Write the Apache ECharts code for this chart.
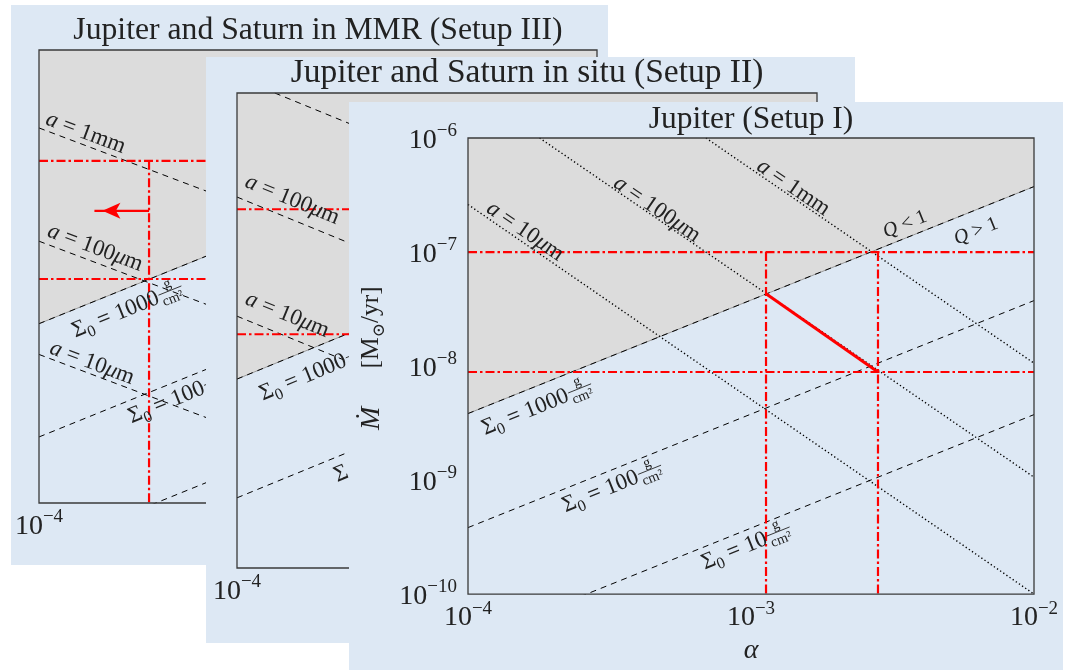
<!DOCTYPE html>
<html><head><meta charset="utf-8">
<script src="https://cdn.jsdelivr.net/npm/echarts@6/dist/echarts.min.js"></script>
<style>html,body{margin:0;padding:0;background:#fff}#c{width:1089px;height:670px}</style>
</head><body><div id="c"></div>
<script>
// ---------------- data ----------------
const xTicks = [1e-4, 1e-3, 1e-2];
const yTicks = [1e-10, 1e-9, 1e-8, 1e-7, 1e-6];
const panelTitles = ['Jupiter and Saturn in MMR (Setup III)', 'Jupiter and Saturn in situ (Setup II)', 'Jupiter (Setup I)'];

// Panel III (back)
const p3_toomre = [[1e-4, 3.83e-9], [1e-2, 3.75e-7]];   // Q = 1  (= Σ0 = 1000 g/cm²)
const p3_s100 = [[1e-4, 3.83e-10], [1e-2, 3.75e-8]];
const p3_s10 = [[1e-4, 3.83e-11], [1e-2, 3.75e-9]];
const p3_a1mm = [[1e-4, 2.05e-7], [1e-2, 2.83e-9]];
const p3_a100 = [[1e-4, 2.05e-8], [1e-2, 2.83e-10]];
const p3_a10 = [[1e-4, 2.05e-9], [1e-2, 2.83e-11]];
const p3_redH = [1.05e-7, 9.5e-9];
const p3_redV = [2.48e-4];
const p3_arrow = [[2.48e-4, 3.8e-8], [1.58e-4, 3.8e-8]];

// Panel II (middle)
const p2_toomre = [[1e-4, 3.9e-9], [1e-2, 3.9e-7]];
const p2_s100 = [[1e-4, 3.9e-10], [1e-2, 3.9e-8]];
const p2_s10 = [[1e-4, 3.9e-11], [1e-2, 3.9e-9]];
const p2_a1mm = [[1.35e-4, 1e-6], [1e-2, 1.35e-8]];
const p2_a100 = [[1e-4, 1.33e-7], [1e-2, 1.33e-9]];
const p2_a10 = [[1e-4, 1.32e-8], [1e-2, 1.32e-10]];
const p2_redH = [1.05e-7, 9.3e-9];

// Panel I (front)
const p1_toomre = [[1e-4, 3.83e-9], [1e-2, 3.75e-7]];
const p1_s100 = [[1e-4, 3.83e-10], [1e-2, 3.75e-8]];
const p1_s10 = [[1e-4, 3.83e-11], [1e-2, 3.75e-9]];
const p1_a1mm = [[6.93e-4, 1e-6], [1e-2, 1.06e-8]];
const p1_a100 = [[1.79e-4, 1e-6], [1e-2, 1.06e-9]];
const p1_a10 = [[1e-4, 2.61e-7], [1e-2, 1e-10]];
const p1_redH = [1e-7, 8.87e-9];
const p1_redV = [1.13e-3, 2.81e-3];
const p1_path = [[1.13e-3, 4.31e-8], [2.81e-3, 8.87e-9]];

// line annotations: [kind, value, unit/op, anchor alpha, anchor Mdot, line it follows]
const p3_labels = [
  ['a', '1', 'mm', 1.47e-4, 1.85e-7, p3_a1mm],
  ['a', '100', 'μm', 1.59e-4, 1.79e-8, p3_a100],
  ['sigma', '1000', '', 2.07e-4, 5.06e-9, p3_toomre],
  ['a', '10', 'μm', 1.55e-4, 1.72e-9, p3_a10],
  ['sigma', '100', '', 3.15e-4, 8.45e-10, p3_s100]
];
const p2_labels = [
  ['a', '100', 'μm', 1.55e-4, 1.26e-7, p2_a100],
  ['a', '10', 'μm', 1.49e-4, 1.35e-8, p2_a10],
  ['sigma', '1000', '', 1.85e-4, 4.4e-9, p2_toomre],
  ['sigma', '100', '', 3.2e-4, 8.7e-10, p2_s100]
];
const p1_labels = [
  ['a', '10', 'μm', 1.59e-4, 1.52e-7, p1_a10],
  ['a', '100', 'μm', 4.65e-4, 2.37e-7, p1_a100],
  ['a', '1', 'mm', 1.41e-3, 3.67e-7, p1_a1mm],
  ['q', '1', '<', 3.5e-3, 1.75e-7, p1_toomre],
  ['q', '1', '>', 6.24e-3, 1.52e-7, p1_toomre],
  ['sigma', '1000', '', 1.75e-4, 4.31e-9, p1_toomre],
  ['sigma', '100', '', 3.23e-4, 8.7e-10, p1_s100],
  ['sigma', '10', '', 9.6e-4, 2.61e-10, p1_s10]
];

// ---------------- styling / layout ----------------
const FF = '"Liberation Serif", "DejaVu Serif", serif';
const TXT = '#222';
const BG = '#dde8f4';
const GRAY = '#dcdcdc';
const RED = '#ff0000';
const grids = [[39, 50, 558, 453], [237, 93, 580, 475], [468, 138, 566, 460]];
const bgs = [[11, 5, 597, 560], [206, 57, 649, 586], [349, 102, 714, 568]];
const titleSize = [31.7, 33.5, 31.5];
const titleTop = [15, 56, 104];

const tickRich = {
  b: {fontFamily: FF, fontSize: 28, color: TXT, lineHeight: 33, verticalAlign: 'bottom'},
  s: {fontFamily: FF, fontSize: 19, color: TXT, lineHeight: 19, verticalAlign: 'top'}
};
function tickFmt(v) {
  const e = Math.round(Math.log10(v));
  return '{b|10}{s|' + (e < 0 ? '\u2212' : '') + Math.abs(e) + '}';
}

const DASH = [6, 5], DOT = [1.3, 2.5], DASHDOT = [9, 3, 2.5, 3];

function ls(panel, data, style, z) {
  return {type: 'line', xAxisIndex: panel, yAxisIndex: panel, zlevel: panel, z: z || 3,
    data: data, symbol: 'none', silent: true, animation: false, clip: true,
    lineStyle: style};
}
function fillSeries(panel, toomre) {
  const poly = [toomre[0], toomre[1], [toomre[1][0], yTicks[yTicks.length - 1]], [toomre[0][0], yTicks[yTicks.length - 1]]];
  return {type: 'custom', xAxisIndex: panel, yAxisIndex: panel, zlevel: panel, z: 1, silent: true,
    data: [poly[0]],
    renderItem: function (params, api) {
      return {type: 'polygon', shape: {points: poly.map(p => api.coord(p))}, style: {fill: GRAY}};
    }};
}
function panelSeries(panel, d) {
  const s = [];
  s.push(fillSeries(panel, d.toomre));
  s.push(ls(panel, d.toomre, {color: '#999', width: 1}, 2));
  s.push(ls(panel, d.toomre, {color: '#000', width: 1, type: DASH}, 3));
  s.push(ls(panel, d.s100, {color: '#000', width: 1, type: DASH}, 3));
  s.push(ls(panel, d.s10, {color: '#000', width: 1, type: DASH}, 3));
  const aStyle = d.dotted ? {color: '#000', width: 1.4, type: DOT} : {color: '#000', width: 1, type: DASH};
  d.alines.forEach(a => s.push(ls(panel, a, aStyle, 3)));
  d.redH.forEach(h => s.push(ls(panel, [[xTicks[0], h], [xTicks[2], h]], {color: RED, width: 2.2, type: DASHDOT}, 4)));
  (d.redV || []).forEach(v => s.push(ls(panel, [[v, d.redH[0]], [v, yTicks[0]]], {color: RED, width: 2.2, type: DASHDOT}, 4)));
  if (d.path) s.push(ls(panel, d.path, {color: RED, width: 3}, 5));
  if (d.arrow) {
    const ser = ls(panel, [
      {value: d.arrow[0], symbol: 'none'},
      {value: d.arrow[1], symbol: 'arrow', symbolSize: [12, 18], symbolRotate: 90, symbolOffset: [8, 0]}
    ], {color: RED, width: 2.2}, 5);
    ser.showSymbol = true;
    ser.itemStyle = {color: RED};
    s.push(ser);
  }
  return s;
}

const series = [].concat(
  panelSeries(0, {toomre: p3_toomre, s100: p3_s100, s10: p3_s10, alines: [p3_a1mm, p3_a100, p3_a10], redH: p3_redH, redV: p3_redV, arrow: p3_arrow}),
  panelSeries(1, {toomre: p2_toomre, s100: p2_s100, s10: p2_s10, alines: [p2_a1mm, p2_a100, p2_a10], redH: p2_redH}),
  panelSeries(2, {toomre: p1_toomre, s100: p1_s100, s10: p1_s10, alines: [p1_a1mm, p1_a100, p1_a10], redH: p1_redH, redV: p1_redV, path: p1_path, dotted: true})
);

const option = {
  backgroundColor: '#fff',
  animation: false,
  title: panelTitles.map((t, i) => ({
    text: t, left: grids[i][0] + grids[i][2] / 2, top: titleTop[i], textAlign: 'center', padding: 0,
    zlevel: i, z: 10,
    textStyle: {fontFamily: FF, fontSize: titleSize[i], fontWeight: 'normal', color: TXT}
  })),
  grid: grids.map((g, i) => ({left: g[0], top: g[1], width: g[2], height: g[3], show: true,
    borderColor: '#3a3a3a', borderWidth: 1.3, backgroundColor: 'transparent', zlevel: i, z: 20})),
  xAxis: grids.map((g, i) => ({
    type: 'log', logBase: 10, gridIndex: i, min: xTicks[0], max: xTicks[2], zlevel: i, z: 5,
    axisLine: {show: false}, axisTick: {show: false}, splitLine: {show: false},
    axisLabel: {formatter: tickFmt, rich: tickRich, margin: 5},
    name: i === 2 ? 'α' : '', nameLocation: 'middle', nameGap: 42,
    nameTextStyle: {fontFamily: FF, fontStyle: 'italic', fontSize: 28, color: TXT}
  })),
  yAxis: grids.map((g, i) => ({
    type: 'log', logBase: 10, gridIndex: i, min: yTicks[0], max: yTicks[yTicks.length - 1], zlevel: i, z: 5,
    axisLine: {show: false}, axisTick: {show: false}, splitLine: {show: false},
    axisLabel: {show: i === 2, formatter: tickFmt, rich: tickRich, margin: 11},
    name: i === 2 ? '{i|Ṁ}{r|\u2003\u2002[M}{sub|⊙}{r|/yr]}' : '', nameLocation: 'middle', nameGap: 76,
    nameTextStyle: {color: TXT, padding: [0, 0, 0, 16], rich: {
      i: {fontFamily: FF, fontStyle: 'italic', fontSize: 28, color: TXT},
      r: {fontFamily: FF, fontSize: 25.5, color: TXT},
      sub: {fontFamily: FF, fontSize: 17, color: TXT, verticalAlign: 'bottom', lineHeight: 34}
    }}
  })),
  series: series
};

const chart = echarts.init(document.getElementById('c'), null, {renderer: 'canvas', width: 1089, height: 670});
chart.setOption(option);

// ---------------- annotations (anchored via the axes) ----------------
const mctx = document.createElement('canvas').getContext('2d');
function fnt(size, it) { return (it ? 'italic ' : '') + size + 'px ' + FF; }
function tw(t, f) { mctx.font = f; return mctx.measureText(t).width; }
function txt(t, x, y, size, it, zl, align) {
  return {type: 'text', x: x, y: y, zlevel: zl, z: 30, silent: true,
    style: {text: t, font: fnt(size, it), fill: TXT, textAlign: align || 'left', textVerticalAlign: 'middle',
      align: align || 'left', verticalAlign: 'middle'}};
}
function buildLabel(L, panel) {
  const [kind, val, extra, ax, ay, line] = L;
  const fs = kind === 'q' ? 20 : 23;
  let pieces;
  if (kind === 'a') {
    pieces = [{t: 'a', s: fs, it: true}, {t: ' = ' + val, s: fs}];
    if (extra === 'μm') pieces.push({t: 'μ', s: fs, it: true}, {t: 'm', s: fs});
    else pieces.push({t: 'mm', s: fs});
  } else if (kind === 'q') {
    pieces = [{t: 'Q', s: fs, it: true}, {t: ' ' + extra + ' ' + val, s: fs}];
  } else {
    pieces = [{t: 'Σ', s: fs}, {t: '0', s: fs * 0.7, dy: fs * 0.3}, {t: ' = ' + val, s: fs}, {frac: true, s: fs * 0.62}];
  }
  pieces.forEach(p => {
    if (p.frac) p.w = Math.max(tw('g', fnt(p.s)), tw('cm²', fnt(p.s))) + 3;
    else p.w = tw(p.t, fnt(p.s, p.it));
  });
  const total = pieces.reduce((a, p) => a + p.w, 0);
  let x = -total / 2;
  const ch = [];
  pieces.forEach(p => {
    if (p.frac) {
      ch.push(txt('g', x + p.w / 2 + 1, -2 - p.s * 0.5, p.s, false, panel, 'center'));
      ch.push({type: 'line', zlevel: panel, z: 30, silent: true, shape: {x1: x + 1, y1: -2, x2: x + p.w + 1, y2: -2}, style: {stroke: TXT, lineWidth: 0.8}});
      ch.push(txt('cm²', x + p.w / 2 + 1, -2 + p.s * 0.62, p.s, false, panel, 'center'));
    } else {
      ch.push(txt(p.t, x, p.dy || 0, p.s, p.it, panel, 'left'));
    }
    x += p.w;
  });
  const c = chart.convertToPixel({gridIndex: panel}, [ax, ay]);
  const p0 = chart.convertToPixel({gridIndex: panel}, line[0]);
  const p1 = chart.convertToPixel({gridIndex: panel}, line[1]);
  const rot = Math.atan2(-(p1[1] - p0[1]), p1[0] - p0[0]);
  return {type: 'group', x: c[0], y: c[1], rotation: rot, children: ch, zlevel: panel, z: 30, silent: true};
}

const elements = [];
bgs.forEach((b, i) => elements.push({type: 'rect', zlevel: i, z: -10, silent: true,
  shape: {x: b[0], y: b[1], width: b[2], height: b[3]}, style: {fill: BG}}));
[p3_labels, p2_labels, p1_labels].forEach((arr, i) => arr.forEach(L => elements.push(buildLabel(L, i))));
chart.setOption({graphic: {elements: elements}});
</script>
</body></html>
